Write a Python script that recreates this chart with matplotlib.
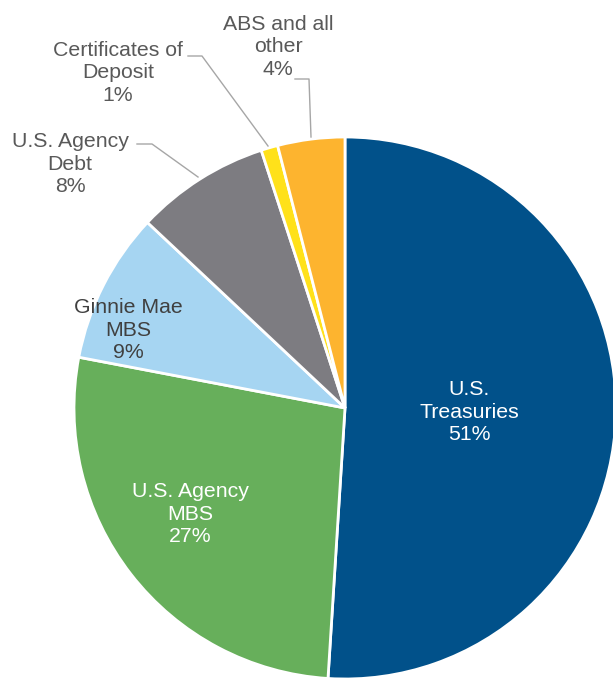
import matplotlib
matplotlib.use("Agg")
import matplotlib.pyplot as plt

categories = ["U.S.\nTreasuries", "U.S. Agency\nMBS", "Ginnie Mae\nMBS", "U.S. Agency\nDebt",
              "Certificates of\nDeposit", "ABS and all\nother"]
values = [51, 27, 9, 8, 1, 4]
colors = ["#01518A", "#67AF5B", "#A6D5F2", "#7D7C81", "#FFE11A", "#FDB42F"]

W, H = 613, 679
fig = plt.figure(figsize=(W / 100, H / 100), dpi=100)
ax = fig.add_axes([0, 0, 1, 1])

cx, cy, r = 345, H - 408, 271
ax.pie(values, colors=colors, startangle=90, counterclock=False, center=(cx, cy), radius=r,
       wedgeprops=dict(edgecolor="white", linewidth=2), frame=True)
ax.set_xlim(0, W)
ax.set_ylim(0, H)
ax.set_aspect("equal")
ax.axis("off")

font = dict(family="Liberation Sans", fontsize=15.3, ha="center", va="center", linespacing=1.25)
labels = [f"{c}\n{v}%" for c, v in zip(categories, values)]

# inside labels
ax.text(469, H - 412, labels[0], color="white", **font)
ax.text(190, H - 514, labels[1], color="white", **font)
ax.text(128, H - 330, labels[2], color="#404040", **font)
# outside labels
ax.text(70, H - 164, labels[3], color="#595959", **font)
ax.text(118, H - 73, labels[4], color="#595959", **font)
ax.text(278, H - 47, labels[5], color="#595959", **font)

lc = dict(color="#A6A6A6", linewidth=1)
ax.plot([137, 152, 198], [H - 144, H - 144, H - 177], **lc)
ax.plot([188, 202, 268], [H - 56, H - 56, H - 146], **lc)
ax.plot([295, 309, 311], [H - 79, H - 79, H - 137], **lc)

fig.savefig("out.png", dpi=100)
